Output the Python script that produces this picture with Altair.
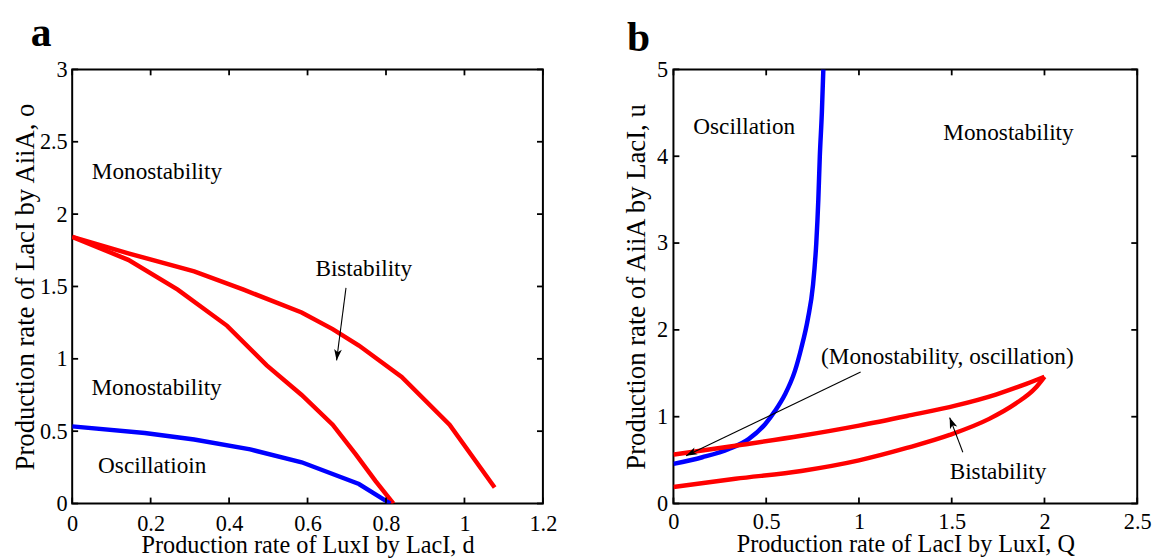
import math
import altair as alt
import pandas as pd

# ---------------- panel a : (d, o) plane ----------------
a_upper_d = [0, 0.143, 0.311, 0.437, 0.585, 0.664, 0.731, 0.840, 0.962, 1.077]
a_upper_o = [1.843, 1.729, 1.604, 1.478, 1.320, 1.205, 1.092, 0.875, 0.545, 0.111]
a_inner_d = [0, 0.143, 0.269, 0.395, 0.496, 0.585, 0.664, 0.723, 0.773, 0.819]
a_inner_o = [1.843, 1.684, 1.478, 1.228, 0.955, 0.750, 0.545, 0.340, 0.157, 0.0]
a_blue_d = [0, 0.185, 0.311, 0.454, 0.585, 0.731, 0.811]
a_blue_o = [0.533, 0.487, 0.442, 0.374, 0.285, 0.135, 0.0]

a_xticks = [0, 0.2, 0.4, 0.6, 0.8, 1.0, 1.2]
a_yticks = [0, 0.5, 1.0, 1.5, 2.0, 2.5, 3.0]

a_text = ["Monostability", "Bistability", "Monostability", "Oscillatioin"]
a_text_x = [0.05, 0.62, 0.049, 0.066]
a_text_y = [2.29, 1.62, 0.80, 0.26]

# arrow: start -> tip
a_arrow = [(0.698, 1.49, 0.674, 0.989)]

# ---------------- panel b : (Q, u) plane ----------------
b_blue_q = [0, 0.156, 0.299, 0.405, 0.494, 0.547, 0.601, 0.654, 0.689, 0.725,
            0.752, 0.770, 0.781, 0.789, 0.800, 0.808]
b_blue_u = [0.457, 0.533, 0.628, 0.742, 0.913, 1.065, 1.256, 1.522, 1.789, 2.131,
            2.511, 3.0, 3.5, 4.0, 4.5, 5.0]
b_upper_q = [0, 0.334, 0.689, 1.0, 1.258, 1.525, 1.738, 1.880, 2.0]
b_upper_u = [0.563, 0.666, 0.780, 0.897, 1.008, 1.130, 1.255, 1.360, 1.46]
b_lower_q = [0, 0.334, 0.689, 1.0, 1.258, 1.489, 1.702, 1.844, 1.951, 2.0]
b_lower_u = [0.190, 0.285, 0.375, 0.497, 0.640, 0.790, 0.975, 1.150, 1.330, 1.46]

b_xticks = [0, 0.5, 1.0, 1.5, 2.0, 2.5]
b_yticks = [0, 1, 2, 3, 4, 5]

b_text = ["Oscillation", "Monostability", "(Monostability, oscillation)", "Bistability"]
b_text_x = [0.107, 1.455, 0.796, 1.489]
b_text_y = [4.34, 4.27, 1.69, 0.365]

b_arrow = [(1.009, 1.515, 0.068, 0.551), (1.560, 0.59, 1.489, 0.99)]

RED = "#ff0000"
BLUE = "#0000ff"
SERIF = "Liberation Serif"
TICK = 6
# stealth arrow head, tip at the origin, pointing up
HEAD = "M0,0 L-0.45,1.3 L0,0.95 L0.45,1.3 Z"


def curves_frame(series):
    rows = []
    for name, color, xs, ys in series:
        for i, (x, y) in enumerate(zip(xs, ys)):
            rows.append({"x": x, "y": y, "s": name, "c": color, "i": i})
    return pd.DataFrame(rows)


def panel(series, xdom, ydom, W, H, xticks, yticks, xtitle, ytitle,
          labels, lx, ly, arrows, letter, letter_x, letter_y,
          ytitle_x, xtitle_y, x_lab_pad, y_lab_pad, interp):
    sx = W / (xdom[1] - xdom[0])
    sy = H / (ydom[1] - ydom[0])
    xscale = alt.Scale(domain=xdom, nice=False, zero=False)
    yscale = alt.Scale(domain=ydom, nice=False, zero=False)

    X = alt.X("x:Q", scale=xscale,
              axis=alt.Axis(values=xticks, format="~g", title=xtitle, ticks=False,
                            domain=False, grid=False, labelPadding=x_lab_pad,
                            labelFlush=False, labelOverlap=False,
                            titleY=xtitle_y, titleBaseline="alphabetic",
                            titleFontSize=24.5))
    Y = alt.Y("y:Q", scale=yscale,
              axis=alt.Axis(values=yticks, format="~g", title=ytitle, ticks=False,
                            domain=False, grid=False, labelPadding=y_lab_pad,
                            labelFlush=False, labelOverlap=False,
                            titleX=ytitle_x, titleAngle=270,
                            titleBaseline="bottom", titleFontSize=27))

    cdf = curves_frame(series)
    lines = alt.Chart(cdf).mark_line(strokeWidth=4.5, interpolate=interp, clip=True).encode(
        x=X, y=Y, detail="s:N", order="i:Q",
        color=alt.Color("c:N", scale=None, legend=None),
    )

    tdf = pd.DataFrame({"x": lx, "y": ly, "t": labels})
    texts = alt.Chart(tdf).mark_text(
        align="left", baseline="middle", font=SERIF, fontSize=23.5, color="black"
    ).encode(x=X, y=Y, text="t:N")

    shaft_rows, head_rows = [], []
    for (x0, y0, x1, y1) in arrows:
        dx = (x1 - x0) * sx
        dy_down = -(y1 - y0) * sy
        ang = math.degrees(math.atan2(dx, -dy_down)) % 360
        shaft_rows.append({"x": x0, "y": y0, "x2": x1, "y2": y1})
        head_rows.append({"x": x1, "y": y1, "ang": ang})
    shafts = alt.Chart(pd.DataFrame(shaft_rows)).mark_rule(
        color="black", strokeWidth=1.1
    ).encode(x=X, y=Y, x2="x2:Q", y2="y2:Q")
    heads = alt.Chart(pd.DataFrame(head_rows)).mark_point(
        shape=HEAD, filled=True, color="black", opacity=1, size=300, strokeWidth=0
    ).encode(x=X, y=Y, angle=alt.Angle("ang:Q", scale=None))

    # inward ticks on all four sides of the frame
    xt = pd.DataFrame({"x": xticks})
    yt = pd.DataFrame({"y": yticks})
    tick_style = dict(color="black", strokeWidth=1.8)
    xt_bottom = alt.Chart(xt).mark_rule(**tick_style).encode(
        x=X, y=alt.value(H), y2=alt.value(H - TICK))
    xt_top = alt.Chart(xt).mark_rule(**tick_style).encode(
        x=X, y=alt.value(0), y2=alt.value(TICK))
    yt_left = alt.Chart(yt).mark_rule(**tick_style).encode(
        y=Y, x=alt.value(0), x2=alt.value(TICK))
    yt_right = alt.Chart(yt).mark_rule(**tick_style).encode(
        y=Y, x=alt.value(W), x2=alt.value(W - TICK))

    lab = alt.Chart(pd.DataFrame({"t": [letter]})).mark_text(
        align="left", baseline="alphabetic", font=SERIF, fontSize=42,
        fontWeight="bold", color="black"
    ).encode(x=alt.value(letter_x), y=alt.value(letter_y), text="t:N")

    return alt.layer(lines, xt_bottom, xt_top, yt_left, yt_right,
                     shafts, heads, texts, lab).properties(width=W, height=H)


pa = panel(
    [("upper", RED, a_upper_d, a_upper_o),
     ("inner", RED, a_inner_d, a_inner_o),
     ("hopf", BLUE, a_blue_d, a_blue_o)],
    [0, 1.2], [0, 3], 476, 439, a_xticks, a_yticks,
    "Production rate of LuxI by LacI, d", "Production rate of LacI by AiiA, o",
    a_text, a_text_x, a_text_y, a_arrow, "a", -42, -24,
    -33, 50, 9, 5, "linear",
)

pb = panel(
    [("hopf", BLUE, b_blue_q, b_blue_u),
     ("upper", RED, b_upper_q, b_upper_u),
     ("lower", RED, b_lower_q, b_lower_u)],
    [0, 2.5], [0, 5], 469, 439, b_xticks, b_yticks,
    "Production rate of LacI by LuxI, Q", "Production rate of AiiA by LacI, u",
    b_text, b_text_x, b_text_y, b_arrow, "b", -47, -19,
    -23, 49, 7, 6, "monotone",
)

chart = alt.hconcat(pa, pb, spacing=132, bounds="flush").configure_view(
    stroke="black", strokeWidth=2
).configure_axis(
    labelFont=SERIF, titleFont=SERIF, labelFontSize=22.5,
    labelColor="black", titleColor="black", titleFontWeight="normal",
).properties(
    padding={"left": 10, "top": 8, "right": 5, "bottom": 5},
    background="white",
)

chart.save("out.html", embed_options={"renderer": "svg", "actions": False})
